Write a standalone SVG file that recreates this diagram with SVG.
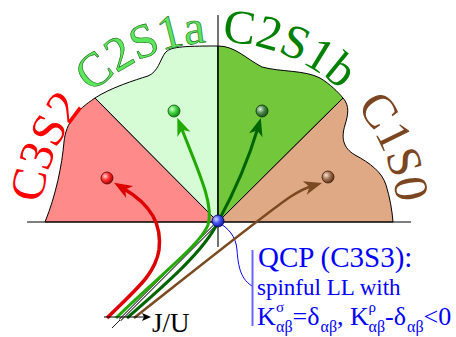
<svg xmlns="http://www.w3.org/2000/svg" width="456" height="337" viewBox="0 0 456 337">
<style>
.reg{stroke:#000;stroke-width:1;stroke-linejoin:round}
.ax{stroke:#000;stroke-width:1.1;fill:none}
.lbl{font-family:"Liberation Serif","Times New Roman",serif;font-size:48px}
.txt{font-family:"Liberation Serif","Times New Roman",serif;fill:#0000ff}
.cv{fill:none;stroke-linecap:butt}
.dot{stroke-width:0.8}
</style>
<defs>
<path id="arc" d="M38,222 A180,180 0 0 1 398,222"/>
<path id="arc2" d="M41,222 A177,177 0 0 1 395,222"/>
<marker id="mR" viewBox="-10 -8 22 16" refX="0" refY="0" markerWidth="22" markerHeight="16" orient="auto" markerUnits="userSpaceOnUse"><path d="M10,0 L-8,-7 L-3,0 L-8,7 Z" fill="#dd0000"/></marker>
<marker id="mG" viewBox="-10 -8 22 16" refX="0" refY="0" markerWidth="22" markerHeight="16" orient="auto" markerUnits="userSpaceOnUse"><path d="M10,0 L-8,-7 L-3,0 L-8,7 Z" fill="#22aa00"/></marker>
<marker id="mD" viewBox="-10 -8 22 16" refX="0" refY="0" markerWidth="22" markerHeight="16" orient="auto" markerUnits="userSpaceOnUse"><path d="M10,0 L-8,-7 L-3,0 L-8,7 Z" fill="#006400"/></marker>
<marker id="mB" viewBox="-10 -8 22 16" refX="0" refY="0" markerWidth="22" markerHeight="16" orient="auto" markerUnits="userSpaceOnUse"><path d="M10,0 L-8,-7 L-3,0 L-8,7 Z" fill="#7a4a22"/></marker>
<marker id="mK" viewBox="-8 -5 12 10" refX="0" refY="0" markerWidth="12" markerHeight="10" orient="auto" markerUnits="userSpaceOnUse"><path d="M3,0 L-6,-4 L-4,0 L-6,4 Z" fill="#000"/></marker>
<radialGradient id="gR" cx="0.35" cy="0.35" r="0.7"><stop offset="0" stop-color="#ffd0d0"/><stop offset="0.5" stop-color="#ff2a2a"/><stop offset="1" stop-color="#a00000"/></radialGradient>
<radialGradient id="gG" cx="0.35" cy="0.35" r="0.7"><stop offset="0" stop-color="#d8ffd0"/><stop offset="0.5" stop-color="#3ad23a"/><stop offset="1" stop-color="#108010"/></radialGradient>
<radialGradient id="gD" cx="0.35" cy="0.35" r="0.7"><stop offset="0" stop-color="#e0f0e0"/><stop offset="0.5" stop-color="#4a8a4a"/><stop offset="1" stop-color="#1a4a1a"/></radialGradient>
<radialGradient id="gB" cx="0.35" cy="0.35" r="0.7"><stop offset="0" stop-color="#f5e0d0"/><stop offset="0.5" stop-color="#a07050"/><stop offset="1" stop-color="#5a3015"/></radialGradient>
<radialGradient id="gQ" cx="0.35" cy="0.35" r="0.7"><stop offset="0" stop-color="#d0d8ff"/><stop offset="0.5" stop-color="#4050ee"/><stop offset="1" stop-color="#101890"/></radialGradient>
</defs>

<g id="regions">
<g id="C3S2-region"><path class="reg" fill="#ff8a8a" d="M218,222 L95,98 C77,110 66,122 64,142 C62,165 56,195 45,222 Z"/></g>
<g id="C2S1a-region"><path class="reg" fill="#d5fcd5" d="M218,222 L95,98 C110,88 135,80 148,76 C158,72 160,60 165,53 C170,47 180,46 218,46 Z"/></g>
<g id="C2S1b-region"><path class="reg" fill="#72c83a" d="M218,222 L218,46 C235,46 245,58 262,67 C280,72 305,70 320,78 C330,84 338,92 343,98 Z"/></g>
<g id="C1S0-region"><path class="reg" fill="#e0a985" d="M218,222 L343,98 C350,106 348,115 345,125 C341,138 343,148 355,155 C370,163 382,172 386,185 C390,198 392,210 393,222 Z"/></g>
</g>

<g id="axes">
<line class="ax" x1="27" y1="222" x2="411" y2="222"/>
<line class="ax" x1="218" y1="15" x2="218" y2="247"/>
</g>

<g id="labels">
<text class="lbl" fill="#ff0000"><textPath href="#arc2" startOffset="72" text-anchor="middle">C3S2</textPath></text>
<text class="lbl" fill="#5ce65c" stroke="#1a6a1a" stroke-width="0.6"><textPath href="#arc" startOffset="207" text-anchor="middle">C2S1a</textPath></text>
<text class="lbl" fill="#008000"><textPath href="#arc" startOffset="352" text-anchor="middle">C2S1b</textPath></text>
<text class="lbl" fill="#7a4520"><textPath href="#arc" startOffset="493" text-anchor="middle">C1S0</textPath></text>
</g>

<g id="connectors">
<path d="M218,222 C228,228 236,236 237,250 C238,262 239,278 252,286" fill="none" stroke="#0000ff" stroke-width="1"/>
<line x1="252.5" y1="250" x2="252.5" y2="326" stroke="#6666ff" stroke-width="2"/>
<line x1="112" y1="328" x2="121" y2="319" stroke="#000" stroke-width="0.9"/>
<path d="M120,320 L214,226" fill="none" stroke="#000" stroke-width="2.8"/>
<path d="M120,320 L214,226" fill="none" stroke="#fff" stroke-width="1.1"/>
<path class="cv" d="M107,318 C135,290 155,275 159,250 C162,225 152,205 122.7,187.9" stroke="#dd0000" stroke-width="3.5" marker-end="url(#mR)"/>
<path class="cv" d="M116,318 C160,275 200,245 208,225 C214,205 200,175 181,127" stroke="#22aa00" stroke-width="3" marker-end="url(#mG)"/>
<path class="cv" d="M127,318 C165,285 205,250 218,222 C230,200 247,165 258,127.5" stroke="#006400" stroke-width="3" marker-end="url(#mD)"/>
<path class="cv" d="M134,318 C200,266 265,214 290,197 C298,192 305,188 312.4,185.8" stroke="#7a4a22" stroke-width="2.6" marker-end="url(#mB)"/>
<line x1="104" y1="317" x2="148" y2="317" stroke="#000" stroke-width="1" marker-end="url(#mK)"/>
</g>

<g id="nodes">
<g id="dot-C3S2"><circle class="dot" cx="107" cy="178" r="6" fill="url(#gR)" stroke="#600000"/></g>
<g id="dot-C2S1a"><circle class="dot" cx="174" cy="111" r="6" fill="url(#gG)" stroke="#0a500a"/></g>
<g id="dot-C2S1b"><circle class="dot" cx="262" cy="111" r="6" fill="url(#gD)" stroke="#0a300a"/></g>
<g id="dot-C1S0"><circle class="dot" cx="328" cy="177" r="6" fill="url(#gB)" stroke="#3a1a05"/></g>
<g id="QCP"><circle class="dot" cx="218" cy="221" r="6" fill="url(#gQ)" stroke="#000060"/></g>
</g>

<g id="texts">
<text class="txt" x="152" y="332" font-size="27" style="fill:#000">J/U</text>
<text class="txt" x="258" y="267" font-size="29">QCP (C3S3):</text>
<text class="txt" x="257" y="295" font-size="23">spinful LL with</text>
<text class="txt" font-size="26"><tspan x="257" y="325">K</tspan><tspan x="276" y="312" font-size="15">σ</tspan><tspan x="276" y="332" font-size="16">αβ</tspan><tspan x="292.5" y="325">=δ</tspan><tspan x="320.5" y="332" font-size="16">αβ</tspan><tspan x="337" y="325">, K</tspan><tspan x="368.5" y="312" font-size="15">ρ</tspan><tspan x="368.5" y="332" font-size="16">αβ</tspan><tspan x="385" y="325">-δ</tspan><tspan x="407" y="332" font-size="16">αβ</tspan><tspan x="423.5" y="325">&lt;0</tspan></text>
</g>
</svg>
